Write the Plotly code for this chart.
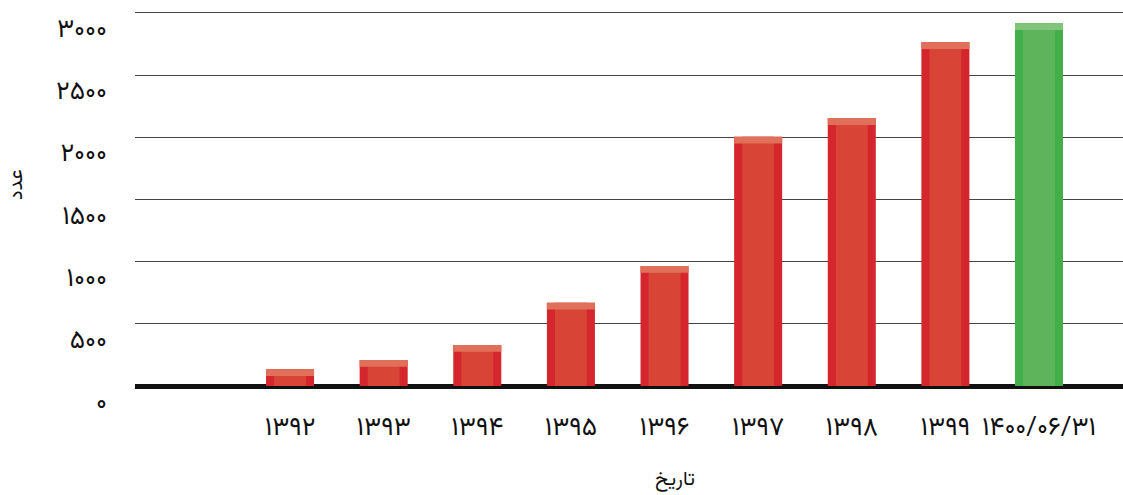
import plotly.graph_objects as go

categories = ["۱۳۹۲", "۱۳۹۳", "۱۳۹۴", "۱۳۹۵", "۱۳۹۶", "۱۳۹۷", "۱۳۹۸", "۱۳۹۹", "۱۴۰۰/۰۶/۳۱"]
values = [135, 210, 330, 670, 965, 2005, 2155, 2765, 2918]
is_latest = [False] * 8 + [True]

y_tick_vals = [0, 500, 1000, 1500, 2000, 2500, 3000]
y_tick_text = ["۰", "۵۰۰", "۱۰۰۰", "۱۵۰۰", "۲۰۰۰", "۲۵۰۰", "۳۰۰۰"]

x_title = "تاریخ"
y_title = "عدد"

side_col = ["#43ae4a" if g else "#d5262e" for g in is_latest]
face_col = ["#5db45a" if g else "#d84537" for g in is_latest]
cap_col = ["#80c57b" if g else "#e0705a" for g in is_latest]

FONT = "Vazirmatn, Vazir, 'Noto Sans Arabic', 'Noto Naskh Arabic', 'DejaVu Sans'"
W_OUT = 0.513
W_IN = 0.34
CAP = 55

fig = go.Figure()
fig.add_trace(go.Bar(x=categories, y=values, width=W_OUT,
                     marker=dict(color=side_col, line=dict(width=0)), hoverinfo="skip"))
fig.add_trace(go.Bar(x=categories, y=values, width=W_IN,
                     marker=dict(color=face_col, line=dict(width=0))))
fig.add_trace(go.Bar(x=categories, y=[CAP] * len(values), base=[v - CAP for v in values],
                     width=W_OUT, marker=dict(color=cap_col, line=dict(width=0)), hoverinfo="skip"))

fig.update_layout(
    width=1123, height=495,
    margin=dict(l=135, r=0, t=11, b=109),
    paper_bgcolor="white", plot_bgcolor="white",
    barmode="overlay", showlegend=False,
    font=dict(family=FONT, color="#111", size=18),
)
fig.add_annotation(
    text=x_title, xref="paper", yref="paper", x=0.547, y=-0.251,
    xanchor="center", yanchor="middle", showarrow=False,
    font=dict(family=FONT, size=20, color="#111"),
)
fig.add_annotation(
    text=y_title, xref="paper", yref="paper", x=-0.1194, y=0.536,
    xanchor="center", yanchor="middle", showarrow=False, textangle=-90,
    font=dict(family=FONT, size=20, color="#111"),
)
fig.update_xaxes(
    type="category", range=[-1.656, 8.897], automargin=False,
    showgrid=False, zeroline=False, showline=False,
    ticks="", ticklabelstandoff=22,
    tickfont=dict(family=FONT, size=26, color="#111"),
)
fig.update_yaxes(
    range=[0, 3016], tickvals=y_tick_vals, ticktext=y_tick_text, automargin=False,
    showgrid=True, gridcolor="#444", gridwidth=1,
    zeroline=True, zerolinecolor="#111", zerolinewidth=5,
    showline=False, ticks="", ticklabelshift=15, ticklabelstandoff=27,
    tickfont=dict(family=FONT, size=26, color="#111"),
)

fig.write_html("out.html", config={"displayModeBar": False},
               post_script="document.body.style.margin='0';")
